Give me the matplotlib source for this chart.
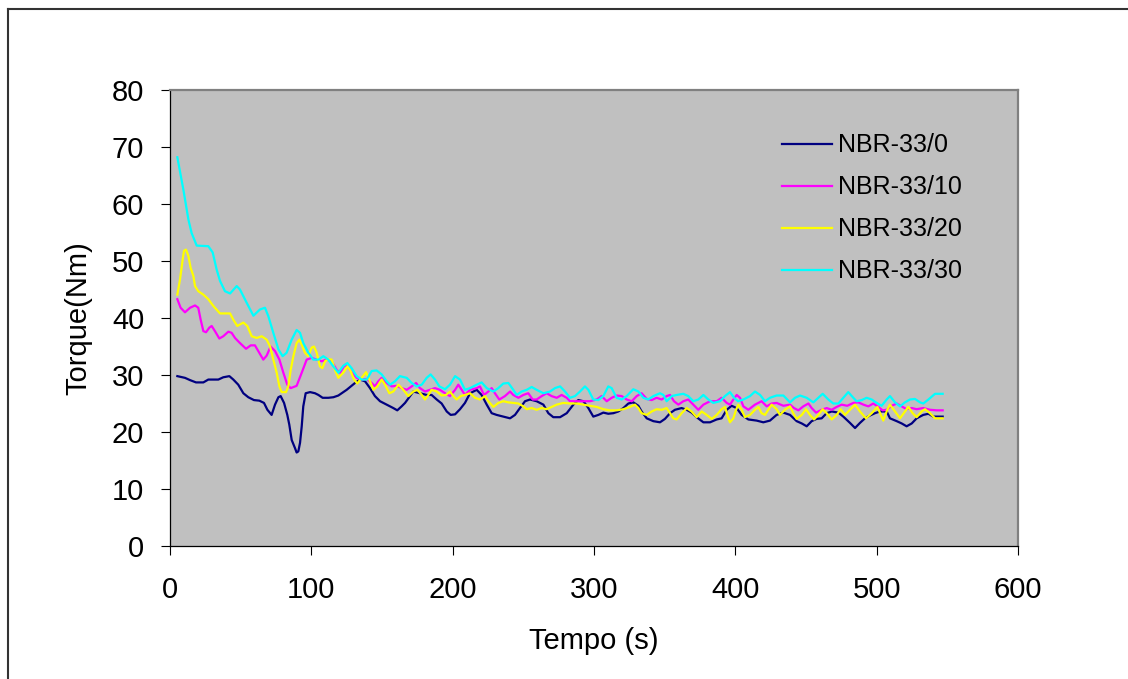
import matplotlib
matplotlib.use("Agg")
import matplotlib.pyplot as plt
from matplotlib.lines import Line2D

plt.rcParams["font.family"] = ["Liberation Sans", "DejaVu Sans"]

# ---- data: torque (Nm) versus time (s) ----
t_nbr0 = [5.2, 10.6, 14.2, 18.4, 23.6, 27.1, 34.2, 37.7, 42.0, 44.8,
          48.3, 51.9, 55.4, 59.4, 63.2, 66.5, 68.9, 71.9, 74.3, 76.7,
          78.3, 80.7, 83.0, 84.4, 86.1, 88.4, 89.6, 90.8, 92.0, 93.2,
          94.3, 96.0, 99.1, 102.6, 105.0, 108.0, 112.0, 115.6, 119.1,
          125.0, 130.9, 134.4, 138.0, 141.5, 145.0, 148.6, 153.3, 158.0, 160.8,
          163.9, 166.3, 169.8, 172.2, 176.9, 181.6, 185.1, 188.7, 192.2, 195.8,
          198.6, 201.7, 205.2, 208.7, 212.3, 217.0, 220.5, 224.1, 227.6, 231.1,
          235.8, 240.6, 244.1, 247.6, 251.2, 254.7, 259.4, 264.2, 267.7, 271.2,
          276.0, 280.7,
          285.4, 288.9, 292.5, 296.0, 299.5, 303.1, 306.6, 310.1, 313.7, 317.2,
          320.8, 324.3, 327.8, 331.4, 333.7, 337.3, 342.0, 346.7, 350.2, 353.8,
          357.3, 362.0, 365.6, 369.1, 372.6, 377.4, 382.1, 386.8, 390.3, 393.9,
          397.4, 400.9, 404.5, 409.2, 415.1, 419.8, 424.5, 429.2, 434.0,
          438.7, 443.4, 447.0, 450.5, 454.0, 457.5, 461.1, 464.6, 468.2, 472.9,
          476.4, 481.1, 484.7, 488.2, 491.7, 495.3, 498.8, 502.4, 507.1, 509.4,
          514.2, 517.7, 521.2, 524.8, 528.3, 533.0, 536.6, 540.1, 546.7]
nbr0 = [29.8, 29.5, 29.1, 28.7, 28.7, 29.2, 29.2, 29.6, 29.8, 29.2,
        28.3, 26.8, 26.1, 25.6, 25.5, 25.1, 23.9, 23.0, 24.8, 26.1,
        26.3, 25.1, 23.0, 21.3, 18.6, 17.2, 16.4, 16.6, 18.1, 21.0,
        24.5, 26.8, 27.0, 26.8, 26.5, 26.0, 26.0, 26.1, 26.4,
        27.4, 28.6, 29.2, 28.9, 27.7, 26.3, 25.4, 24.8, 24.2, 23.8,
        24.5, 25.1, 26.3, 27.1, 26.8, 26.5, 26.5, 25.7, 25.0, 23.6,
        23.0, 23.1, 24.0, 25.1, 26.8, 27.4, 26.5, 24.8, 23.3, 23.0,
        22.7, 22.4, 23.0, 24.2, 25.4, 25.7, 25.4, 24.8, 23.3, 22.6,
        22.6, 23.3,
        24.8, 25.6, 25.4, 24.2, 22.7, 23.0, 23.4, 23.2, 23.3, 23.6,
        24.2, 25.0, 25.2, 24.6, 23.6, 22.4, 21.9, 21.7, 22.3, 23.3,
        23.9, 24.2, 23.9, 23.4, 22.6, 21.7, 21.7, 22.2, 22.4, 23.9,
        24.6, 24.2, 23.0, 22.2, 22.0, 21.7, 22.0, 23.0, 23.4,
        23.0, 21.9, 21.5, 21.0, 21.9, 22.3, 22.4, 23.3, 23.6, 23.4,
        22.7, 21.6, 20.7, 21.6, 22.4, 22.9, 23.3, 23.6, 23.6, 22.4,
        21.9, 21.5, 21.0, 21.5, 22.4, 23.0, 23.2, 22.7, 22.7]

t_nbr10 = [5.2, 7.5, 10.6, 14.2, 17.7, 20.0, 21.7, 23.6, 25.5, 27.8,
           29.5, 31.8, 34.9, 37.7, 41.3, 43.6, 46.0, 49.5, 53.8, 57.1,
           60.1, 63.2, 66.0, 68.4, 71.2, 74.3, 77.4, 80.2, 83.0, 85.4,
           89.6, 93.2, 96.7, 100.2, 103.8, 107.3, 110.8, 114.4, 117.9,
           120.3, 123.8, 127.4, 132.1, 135.6, 139.2, 142.7, 145.0, 147.4, 149.8,
           153.3, 156.8, 160.4, 163.9, 167.5, 171.0, 174.1, 176.9, 180.4, 184.0,
           187.5, 191.0, 194.6, 198.1, 201.7, 204.0, 206.4, 208.7, 212.3, 217.0,
           219.3, 222.2, 225.2, 227.6, 229.9, 233.0, 237.0, 240.6, 242.9, 246.5,
           250.0, 253.5, 256.6, 259.4, 263.0, 266.5, 270.0, 273.6, 277.1, 280.7,
           283.0, 287.7, 292.5, 297.2, 301.9, 305.4, 309.0, 312.5, 316.0, 319.6,
           323.1, 326.7, 330.2, 333.7, 337.3, 340.8, 344.3, 347.9, 351.4, 353.8,
           356.6, 359.7, 363.2, 366.7, 370.3, 373.8, 377.4, 382.1, 386.8, 390.3,
           393.9, 396.2, 398.6, 401.0, 403.3, 405.7, 409.2, 413.9, 418.6, 422.2,
           425.7, 429.2, 434.0,
           438.7, 441.5, 444.6, 448.1, 451.7, 454.0, 457.1, 461.1, 464.6, 468.2,
           471.7, 475.2, 479.2, 483.5, 487.0, 490.6, 494.1, 497.6, 501.2, 504.2,
           507.1, 510.6, 514.2, 517.7, 521.2, 524.8, 528.3, 533.0, 537.7, 542.5,
           546.7]
nbr10 = [43.3, 41.8, 41.0, 41.8, 42.2, 41.8, 39.7, 37.7, 37.5, 38.3,
         38.6, 37.7, 36.4, 36.8, 37.6, 37.4, 36.5, 35.6, 34.6, 35.2,
         35.2, 33.9, 32.7, 33.4, 35.0, 34.2, 32.7, 30.4, 28.3, 27.7,
         28.1, 30.4, 32.7, 33.0, 32.7, 32.4, 32.7, 32.4, 30.9,
         30.4, 31.8, 30.9, 29.5, 29.2, 29.3, 28.6, 28.0, 28.9, 29.5,
         28.6, 28.0, 28.1, 27.7, 27.4, 28.0, 28.6, 27.7, 27.1, 27.4,
         27.7, 27.4, 26.8, 26.3, 27.4, 28.3, 27.4, 26.5, 27.4, 27.7,
         28.0, 26.5, 27.1, 27.7, 26.8, 25.7, 26.3, 27.1, 26.5, 26.0,
         26.5, 26.8, 25.7, 25.7, 26.3, 26.8, 26.3, 26.0, 26.5, 26.0,
         25.4, 25.4, 25.4, 25.4, 25.7, 26.3, 25.4, 26.0, 26.4, 26.3,
         25.7, 25.4, 26.3, 26.8, 25.8, 25.6, 26.0, 25.7, 26.3, 26.5,
         25.4, 24.8, 25.4, 25.7, 24.8, 23.9, 24.8, 25.4, 25.4, 26.0,
         25.1, 24.8, 25.7, 26.5, 26.0, 24.5, 23.9, 24.8, 25.4, 24.5,
         25.0, 25.1, 24.6,
         24.8, 24.2, 23.8, 24.5, 25.0, 24.2, 23.4, 23.9, 24.2, 23.9,
         24.4, 24.8, 24.6, 25.1, 25.2, 24.8, 24.5, 25.0, 24.4, 23.8,
         23.9, 24.6, 25.0, 24.5, 24.0, 24.2, 24.0, 24.2, 23.9, 23.8,
         23.8]

t_nbr20 = [5.2, 7.1, 9.0, 9.9, 11.3, 13.0, 14.6, 16.5, 17.7, 20.0,
           23.6, 27.1, 30.7, 35.4, 42.5, 44.8, 47.6, 51.9, 54.7, 57.8,
           61.3, 64.9, 68.4, 70.8, 73.1, 75.5, 77.4, 79.0, 82.1, 83.7,
           85.4, 87.3, 89.6, 91.5, 93.2, 95.5, 97.9, 100.2, 101.9, 103.8,
           106.1, 107.8, 109.7, 112.0, 114.4, 116.7, 119.1,
           122.6, 125.5, 127.8, 130.2, 132.5, 135.6, 138.7, 141.0, 143.9,
           146.7, 149.8, 152.1, 155.2, 158.0, 161.6, 165.1, 168.6, 172.2, 175.0,
           178.1, 180.4, 182.8, 185.1, 188.7, 192.2, 195.3, 198.1, 200.5, 202.8,
           205.7, 208.7, 212.3, 215.8, 219.3, 222.9, 225.2, 228.8, 232.3, 235.8,
           239.4, 242.9, 246.5, 250.0, 252.4, 255.9, 259.4, 263.0, 266.5, 270.0,
           273.6, 278.3,
           283.0, 287.7, 292.5, 297.2, 301.9, 306.6, 311.3, 316.0, 320.8, 325.5,
           329.0, 331.4, 333.7, 337.3, 340.8, 344.3, 347.9, 351.4, 353.8, 356.1,
           358.5, 362.0, 365.6, 369.1, 372.6, 376.2, 379.7, 383.3, 386.8, 390.3,
           392.7, 394.3, 396.2, 398.6, 400.5, 402.1, 404.5, 406.8, 410.4, 413.9,
           416.3, 418.6, 421.0, 423.3, 425.7, 429.2, 431.6, 435.1,
           438.7, 441.0, 443.4, 447.0, 450.0, 452.8, 455.7, 458.7, 461.8, 464.6,
           468.2, 471.7, 474.5, 477.6, 481.1, 484.7, 488.2, 492.5, 496.5, 500.5,
           503.5, 504.7, 507.5, 509.4, 513.0, 516.5, 520.0, 522.4, 525.5, 528.3,
           531.8, 534.2, 537.7, 541.3, 546.7]
nbr20 = [44.1, 46.8, 50.3, 51.8, 52.0, 50.9, 48.8, 47.4, 45.6, 44.7,
         44.1, 43.3, 42.1, 40.8, 40.8, 39.7, 38.6, 39.2, 38.6, 36.8,
         36.5, 36.8, 36.2, 35.0, 32.7, 30.4, 28.0, 27.0, 27.0, 28.0,
         30.9, 33.3, 35.6, 36.2, 35.3, 33.9, 33.3, 34.8, 35.0, 33.9,
         31.5, 31.2, 32.4, 32.8, 32.7, 30.9, 29.5,
         30.4, 31.5, 30.7, 29.2, 28.5, 29.5, 30.5, 29.2, 27.4,
         28.0, 29.2, 28.3, 26.8, 27.1, 28.3, 27.4, 26.3, 27.1, 27.4,
         26.5, 25.7, 26.5, 27.4, 27.1, 26.4, 26.5, 27.1, 26.3, 25.7,
         26.3, 26.5, 26.8, 26.0, 25.7, 26.3, 25.4, 24.4, 25.1, 25.4,
         25.2, 25.1, 25.0, 24.5, 24.0, 24.2, 23.9, 24.2, 24.0, 24.4,
         24.8, 25.1,
         25.0, 25.0, 24.8, 24.6, 24.4, 24.0, 23.8, 23.8, 24.0, 24.4,
         24.8, 24.2, 23.3, 23.0, 23.6, 24.0, 23.9, 24.2, 23.3, 22.4,
         22.2, 23.3, 24.2, 23.6, 22.6, 23.6, 23.0, 22.3, 23.0, 24.0,
         24.4, 23.0, 21.7, 22.4, 23.9, 24.8, 23.9, 22.6, 23.0, 23.9,
         24.4, 23.3, 23.0, 23.9, 24.8, 24.0, 23.0, 23.9,
         24.5, 23.3, 22.3, 23.0, 24.0, 23.0, 22.2, 23.0, 24.0, 23.3,
         22.2, 23.0, 24.0, 23.0, 23.9, 24.8, 23.6, 22.4, 23.3, 24.4,
         22.7, 22.0, 23.9, 24.8, 23.6, 22.4, 23.6, 24.4, 23.3, 22.6,
         23.6, 24.0, 23.3, 22.4, 22.4]

t_nbr30 = [5.2, 9.4, 13.0, 15.3, 18.9, 27.1, 30.2, 33.0, 35.4, 38.9,
           42.5, 47.2, 49.5, 54.2, 59.0, 63.7, 67.2, 69.6, 73.1, 76.7,
           79.7, 82.5, 86.1, 89.6, 92.0, 94.3, 97.9, 101.4, 105.0, 108.5,
           112.0, 115.6, 119.1,
           122.6, 125.5, 128.5, 132.1, 135.6, 139.2, 142.7, 146.2, 149.8, 153.3,
           155.7, 159.2, 162.7, 167.5, 171.0, 174.5, 178.1, 181.6, 184.4, 187.5,
           190.6, 194.6, 198.1, 201.7, 205.2, 208.7, 212.3, 217.0, 220.5, 224.1,
           228.8, 232.3, 235.8, 239.4, 242.9, 245.3, 248.8, 252.4, 255.9, 259.4,
           264.2, 268.9, 272.4, 276.0, 279.5,
           283.0, 286.6, 290.1, 293.6, 296.0, 299.5, 303.1, 306.6, 310.1, 312.5,
           316.0, 319.6, 323.1, 327.8, 331.4, 334.9, 338.4, 342.0, 346.7, 349.1,
           351.4, 355.0, 358.5, 363.2, 366.7, 370.3, 373.8, 377.4, 380.9, 384.4,
           389.2, 392.7, 396.2, 399.1, 401.9, 405.7, 410.4, 413.9, 417.5, 421.0,
           424.5, 429.2, 434.0,
           438.7, 442.2, 445.8, 450.5, 455.2, 458.7, 461.8, 465.8, 469.3, 472.9,
           476.4, 479.9, 483.5, 485.8, 489.4, 492.9, 496.5, 500.0, 503.5, 507.1,
           509.4, 513.0, 516.5, 520.0, 523.6, 527.1, 530.7, 533.0, 536.6, 541.3,
           546.7]
nbr30 = [68.2, 62.6, 57.3, 54.9, 52.7, 52.6, 51.5, 48.5, 46.5, 44.7,
         44.3, 45.6, 45.0, 42.7, 40.4, 41.5, 41.8, 40.3, 37.4, 34.5,
         33.3, 33.9, 36.2, 37.9, 37.4, 35.6, 33.9, 32.7, 32.7, 33.3,
         32.7, 31.5, 30.4,
         31.6, 32.1, 31.2, 29.8, 29.2, 29.2, 30.7, 30.8, 30.1, 28.9,
         28.3, 28.9, 29.8, 29.5, 28.6, 28.0, 28.3, 29.5, 30.1, 29.2,
         28.0, 27.5, 28.3, 29.8, 29.2, 27.4, 27.7, 28.3, 28.7, 27.7,
         27.1, 27.7, 28.5, 28.6, 27.4, 26.5, 27.1, 27.4, 27.9, 27.4,
         26.8, 27.1, 27.7, 28.0, 27.1,
         26.0, 26.3, 27.1, 28.0, 27.4, 25.7, 25.6, 26.3, 28.0, 27.7,
         26.0, 25.7, 26.3, 27.5, 27.1, 26.0, 25.7, 26.3, 26.8, 26.5,
         25.4, 26.3, 26.5, 26.7, 26.3, 25.4, 25.7, 26.5, 25.7, 25.1,
         25.4, 26.3, 27.0, 26.0, 25.4, 25.7, 26.3, 27.1, 26.5, 25.4,
         26.0, 26.4, 26.4,
         25.2, 26.0, 26.4, 26.0, 25.2, 26.0, 26.7, 25.7, 25.0, 25.0,
         26.0, 27.0, 26.0, 25.4, 25.6, 26.0, 25.7, 25.1, 24.6, 25.7,
         26.3, 25.2, 24.5, 25.2, 25.7, 25.8, 25.2, 25.0, 25.7, 26.7,
         26.7]

labels = ["NBR-33/0", "NBR-33/10", "NBR-33/20", "NBR-33/30"]
colors = ["#000080", "#FF00FF", "#FFFF00", "#00FFFF"]
series = [(t_nbr0, nbr0), (t_nbr10, nbr10), (t_nbr20, nbr20), (t_nbr30, nbr30)]

x_ticks = [0, 100, 200, 300, 400, 500, 600]
y_ticks = [0, 10, 20, 30, 40, 50, 60, 70, 80]

# ---- figure ----
W, H = 1128, 679
fig = plt.figure(figsize=(W / 100, H / 100), dpi=100)
fig.patch.set_facecolor("white")

ax = fig.add_axes([170 / W, 1 - 546 / H, 848 / W, 456 / H])
ax.set_facecolor("#C0C0C0")

for (t, v), lab, col in zip(series, labels, colors):
    ax.plot(t, v, color=col, lw=1.6, label=lab, solid_joinstyle="round")

ax.set_xlim(0, 600)
ax.set_ylim(0, 80)
ax.set_xticks(x_ticks)
ax.set_yticks(y_ticks)
ax.tick_params(axis="both", direction="out", length=6.5, width=0.8,
               color="black", labelsize=21, labelcolor="black")
ax.tick_params(axis="y", pad=12)
ax.tick_params(axis="x", pad=15)

for side in ("left", "bottom"):
    ax.spines[side].set_color("black")
    ax.spines[side].set_linewidth(0.9)
for side in ("top", "right"):
    ax.spines[side].set_color("#808080")
    ax.spines[side].set_linewidth(1.6)

ax.set_xlabel("Tempo (s)", fontsize=21)
ax.set_ylabel("Torque(Nm)", fontsize=21)
ax.xaxis.set_label_coords(0.5, -0.178)
ax.yaxis.set_label_coords(-0.092, 0.5)

leg = ax.legend(loc="upper left", bbox_to_anchor=(0.722, 0.905),
                frameon=False, fontsize=18, handlelength=2.0,
                handletextpad=0.22, labelspacing=0.72,
                borderpad=0.0, borderaxespad=0.0)

# outer chart frame (top and left edges)
fig.add_artist(Line2D([8 / W, 1.0], [1 - 9 / H, 1 - 9 / H],
                      transform=fig.transFigure, color="#333333", lw=1.5))
fig.add_artist(Line2D([8 / W, 8 / W], [0.0, 1 - 9 / H],
                      transform=fig.transFigure, color="#333333", lw=1.5))

fig.savefig("out.png", dpi=100)
